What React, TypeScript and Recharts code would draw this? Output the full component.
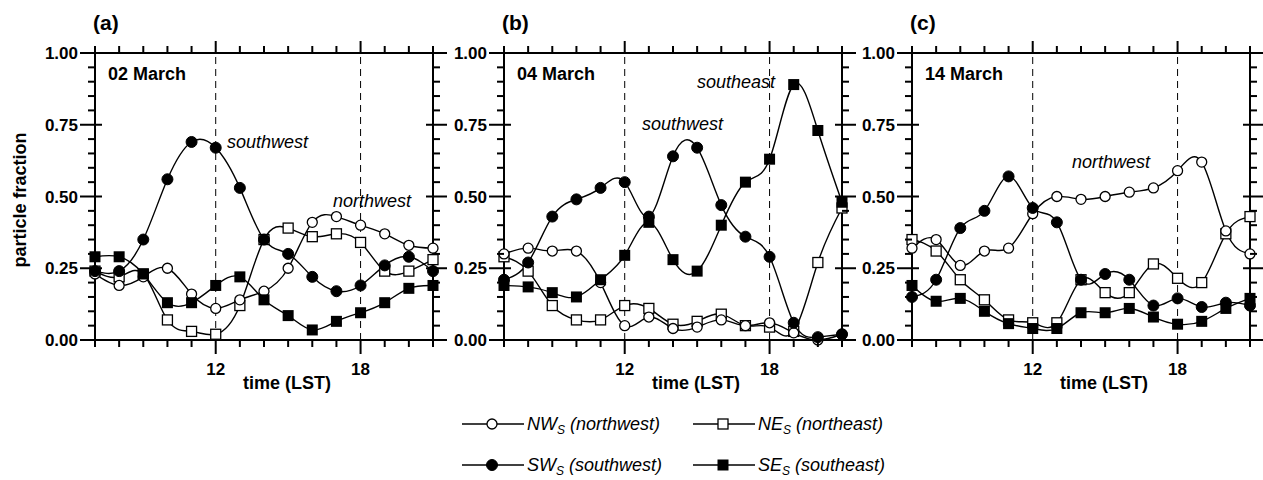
import { Line, LineChart, ReferenceLine, XAxis, YAxis } from 'recharts'

// hours of the day (LST), one sample per hour
const HOURS = [7, 8, 9, 10, 11, 12, 13, 14, 15, 16, 17, 18, 19, 20, 21]
const HOUR_LABELS = [12, 18]
const Y_TICKS = [
  0, 0.05, 0.1, 0.15, 0.2, 0.25, 0.3, 0.35, 0.4, 0.45, 0.5, 0.55, 0.6, 0.65,
  0.7, 0.75, 0.8, 0.85, 0.9, 0.95, 1,
]

// (a) 02 March
const NW_A = [0.23, 0.19, 0.22, 0.25, 0.16, 0.11, 0.14, 0.17, 0.25, 0.41, 0.43, 0.4, 0.37, 0.33, 0.32]
const NE_A = [0.24, 0.22, 0.23, 0.07, 0.03, 0.02, 0.12, 0.35, 0.39, 0.36, 0.37, 0.34, 0.24, 0.24, 0.28]
const SW_A = [0.24, 0.24, 0.35, 0.56, 0.69, 0.67, 0.53, 0.35, 0.3, 0.22, 0.17, 0.19, 0.26, 0.29, 0.24]
const SE_A = [0.29, 0.29, 0.23, 0.13, 0.13, 0.19, 0.22, 0.14, 0.085, 0.035, 0.065, 0.095, 0.13, 0.18, 0.19]

// (b) 04 March
const NW_B = [0.3, 0.32, 0.31, 0.31, 0.2, 0.05, 0.08, 0.04, 0.045, 0.07, 0.05, 0.06, 0.025, 0.0, 0.02]
const NE_B = [0.29, 0.24, 0.12, 0.07, 0.07, 0.12, 0.11, 0.055, 0.065, 0.09, 0.05, 0.045, 0.03, 0.27, 0.46]
const SW_B = [0.21, 0.27, 0.43, 0.49, 0.53, 0.55, 0.43, 0.64, 0.67, 0.47, 0.36, 0.29, 0.06, 0.01, 0.02]
const SE_B = [0.19, 0.185, 0.165, 0.15, 0.21, 0.295, 0.41, 0.28, 0.24, 0.4, 0.55, 0.63, 0.89, 0.73, 0.48]

// (c) 14 March
const NW_C = [0.32, 0.35, 0.26, 0.31, 0.32, 0.44, 0.5, 0.49, 0.5, 0.515, 0.53, 0.59, 0.62, 0.38, 0.3]
const NE_C = [0.35, 0.31, 0.21, 0.14, 0.07, 0.06, 0.06, 0.21, 0.165, 0.165, 0.265, 0.215, 0.2, 0.37, 0.43]
const SW_C = [0.15, 0.21, 0.39, 0.45, 0.57, 0.46, 0.41, 0.21, 0.23, 0.21, 0.12, 0.145, 0.115, 0.13, 0.12]
const SE_C = [0.19, 0.135, 0.145, 0.1, 0.057, 0.04, 0.04, 0.095, 0.095, 0.11, 0.08, 0.055, 0.065, 0.11, 0.145]

const FONT = '"Liberation Sans", Arial, Helvetica, sans-serif'

// plot box inside each chart svg
const PLOT_L = 60
const PLOT_W = 338
const PLOT_T = 53
const PLOT_H = 287
const PLOT_R = PLOT_L + PLOT_W
const PLOT_B = PLOT_T + PLOT_H
const CHART_W = PLOT_R + 18
const CHART_H = 400

const panels = [
  {
    tag: '(a)', date: '02 March', left: 95,
    nw: NW_A, ne: NE_A, sw: SW_A, se: SE_A,
    notes: [
      { text: 'southwest', x: 227, y: 148 },
      { text: 'northwest', x: 333, y: 207 },
    ],
  },
  {
    tag: '(b)', date: '04 March', left: 504,
    nw: NW_B, ne: NE_B, sw: SW_B, se: SE_B,
    notes: [
      { text: 'southeast', x: 697, y: 88 },
      { text: 'southwest', x: 642, y: 130 },
    ],
  },
  {
    tag: '(c)', date: '14 March', left: 912,
    nw: NW_C, ne: NE_C, sw: SW_C, se: SE_C,
    notes: [{ text: 'northwest', x: 1072, y: 168 }],
  },
]

const isMajorY = (v: number) => Math.abs(v * 4 - Math.round(v * 4)) < 1e-6

const LeftTick = (p: any) => {
  const v = p.payload.value
  const major = isMajorY(v)
  return (
    <g>
      <line x1={PLOT_L - (major ? 15 : 7)} x2={PLOT_L + (major ? 7 : 0)} y1={p.y} y2={p.y} stroke="#000" strokeWidth={2} />
      {major && (
        <text x={PLOT_L - 17} y={p.y + 6} textAnchor="end" fontSize={17} fontWeight="bold" fontFamily={FONT} fill="#000">
          {v.toFixed(2)}
        </text>
      )}
    </g>
  )
}

const RightTick = (p: any) => {
  const major = isMajorY(p.payload.value)
  return <line x1={PLOT_R - (major ? 7 : 0)} x2={PLOT_R + (major ? 14 : 7)} y1={p.y} y2={p.y} stroke="#000" strokeWidth={2} />
}

const BottomTick = (p: any) => {
  const v = p.payload.value
  const major = HOUR_LABELS.includes(v)
  return (
    <g>
      <line x1={p.x} x2={p.x} y1={PLOT_B} y2={PLOT_B + (major ? 14 : 7)} stroke="#000" strokeWidth={2} />
      {major && (
        <text x={p.x} y={375} textAnchor="middle" fontSize={17} fontWeight="bold" fontFamily={FONT} fill="#000">
          {v}
        </text>
      )}
    </g>
  )
}

const TopTick = (p: any) => {
  const major = HOUR_LABELS.includes(p.payload.value)
  return <line x1={p.x} x2={p.x} y1={PLOT_T} y2={PLOT_T - (major ? 12 : 7)} stroke="#000" strokeWidth={2} />
}

const openCircle = (p: any) => (
  <circle key={`oc${p.index}`} cx={p.cx} cy={p.cy} r={5} fill="#fff" stroke="#000" strokeWidth={1.3} />
)
const fullCircle = (p: any) => (
  <circle key={`fc${p.index}`} cx={p.cx} cy={p.cy} r={5.5} fill="#000" stroke="#000" />
)
const openSquare = (p: any) => (
  <rect key={`os${p.index}`} x={p.cx - 5} y={p.cy - 5} width={10} height={10} fill="#fff" stroke="#000" strokeWidth={1.3} />
)
const fullSquare = (p: any) => (
  <rect key={`fs${p.index}`} x={p.cx - 5.5} y={p.cy - 5.5} width={11} height={11} fill="#000" />
)

const Panel = ({ panel }: { panel: (typeof panels)[number] }) => {
  const rows = HOURS.map((h, i) => ({
    hour: h,
    nw: panel.nw[i],
    ne: panel.ne[i],
    sw: panel.sw[i],
    se: panel.se[i],
  }))
  const series = [
    { key: 'ne', dot: openSquare },
    { key: 'nw', dot: openCircle },
    { key: 'se', dot: fullSquare },
    { key: 'sw', dot: fullCircle },
  ]
  const axisLine = { stroke: '#000', strokeWidth: 2 }
  return (
    <div style={{ position: 'absolute', left: panel.left - PLOT_L, top: 0 }}>
      <LineChart
        width={CHART_W}
        height={CHART_H}
        data={rows}
        margin={{ top: PLOT_T - 1, right: 16, bottom: 20, left: 0 }}
      >
        <XAxis
          xAxisId="b"
          dataKey="hour"
          type="number"
          domain={[7, 21]}
          ticks={HOURS}
          interval={0}
          height={CHART_H - PLOT_B - 20}
          tick={BottomTick}
          tickLine={false}
          axisLine={axisLine}
        />
        <XAxis
          xAxisId="t"
          orientation="top"
          dataKey="hour"
          type="number"
          domain={[7, 21]}
          ticks={HOURS}
          interval={0}
          height={1}
          tick={TopTick}
          tickLine={false}
          axisLine={axisLine}
        />
        <YAxis
          yAxisId="l"
          type="number"
          domain={[0, 1]}
          ticks={Y_TICKS}
          interval={0}
          width={PLOT_L}
          tick={LeftTick}
          tickLine={false}
          axisLine={axisLine}
        />
        <YAxis
          yAxisId="r"
          orientation="right"
          type="number"
          domain={[0, 1]}
          ticks={Y_TICKS}
          interval={0}
          width={2}
          tick={RightTick}
          tickLine={false}
          axisLine={axisLine}
        />
        {HOUR_LABELS.map((h) => (
          <ReferenceLine key={h} xAxisId="b" yAxisId="l" x={h} stroke="#000" strokeWidth={1} strokeDasharray="7 5" />
        ))}
        {/* invisible series so the top and right frame axes get drawn */}
        <Line
          xAxisId="t"
          yAxisId="r"
          type="natural"
          dataKey="nw"
          stroke="none"
          dot={false}
          activeDot={false}
          legendType="none"
          isAnimationActive={false}
        />
        {series.map((s) => (
          <Line
            key={s.key}
            xAxisId="b"
            yAxisId="l"
            type="natural"
            dataKey={s.key}
            stroke="#000"
            strokeWidth={1.4}
            dot={s.dot}
            activeDot={false}
            isAnimationActive={false}
          />
        ))}
      </LineChart>
    </div>
  )
}

const legendItems = [
  { name: 'NW', label: ' (northwest)', dot: 'oc', x: 462, y: 424 },
  { name: 'NE', label: ' (northeast)', dot: 'os', x: 693, y: 424 },
  { name: 'SW', label: ' (southwest)', dot: 'fc', x: 462, y: 465 },
  { name: 'SE', label: ' (southeast)', dot: 'fs', x: 693, y: 465 },
]

const LegendMark = ({ kind, cx, cy }: { kind: string; cx: number; cy: number }) => {
  const p = { cx, cy, index: 0 }
  if (kind === 'oc') return openCircle(p)
  if (kind === 'fc') return fullCircle(p)
  if (kind === 'os') return openSquare(p)
  return fullSquare(p)
}

export default function App() {
  return (
    <div style={{ position: 'absolute', left: 0, top: 0, width: 1263, height: 480, background: '#fff', overflow: 'hidden' }}>
      {panels.map((p) => (
        <Panel key={p.tag} panel={p} />
      ))}
      <svg
        width={1263}
        height={480}
        style={{ position: 'absolute', left: 0, top: 0, pointerEvents: 'none' }}
        fontFamily={FONT}
      >
        <text transform="translate(26,200) rotate(-90)" textAnchor="middle" fontSize={18} fontWeight="bold">
          particle fraction
        </text>
        {panels.map((p) => (
          <g key={p.tag}>
            <text x={p.left - 2} y={30} fontSize={21} fontWeight="bold">{p.tag}</text>
            <text x={p.left + 13} y={80} fontSize={18} fontWeight="bold">{p.date}</text>
            <text x={p.left + PLOT_W / 2 + 23} y={389} textAnchor="middle" fontSize={18} fontWeight="bold">
              time (LST)
            </text>
            {p.notes.map((n) => (
              <text key={n.text} x={n.x} y={n.y} fontSize={18} fontStyle="italic">{n.text}</text>
            ))}
          </g>
        ))}
        {legendItems.map((it) => (
          <g key={it.name}>
            <line x1={it.x} x2={it.x + 62} y1={it.y} y2={it.y} stroke="#000" strokeWidth={1.4} />
            <LegendMark kind={it.dot} cx={it.x + 30} cy={it.y} />
            <text x={it.x + 65} y={it.y + 6} fontSize={18} fontStyle="italic">
              {it.name}
              <tspan fontSize={12} dy={4}>S</tspan>
              <tspan fontSize={18} dy={-4}>{it.label}</tspan>
            </text>
          </g>
        ))}
      </svg>
    </div>
  )
}
